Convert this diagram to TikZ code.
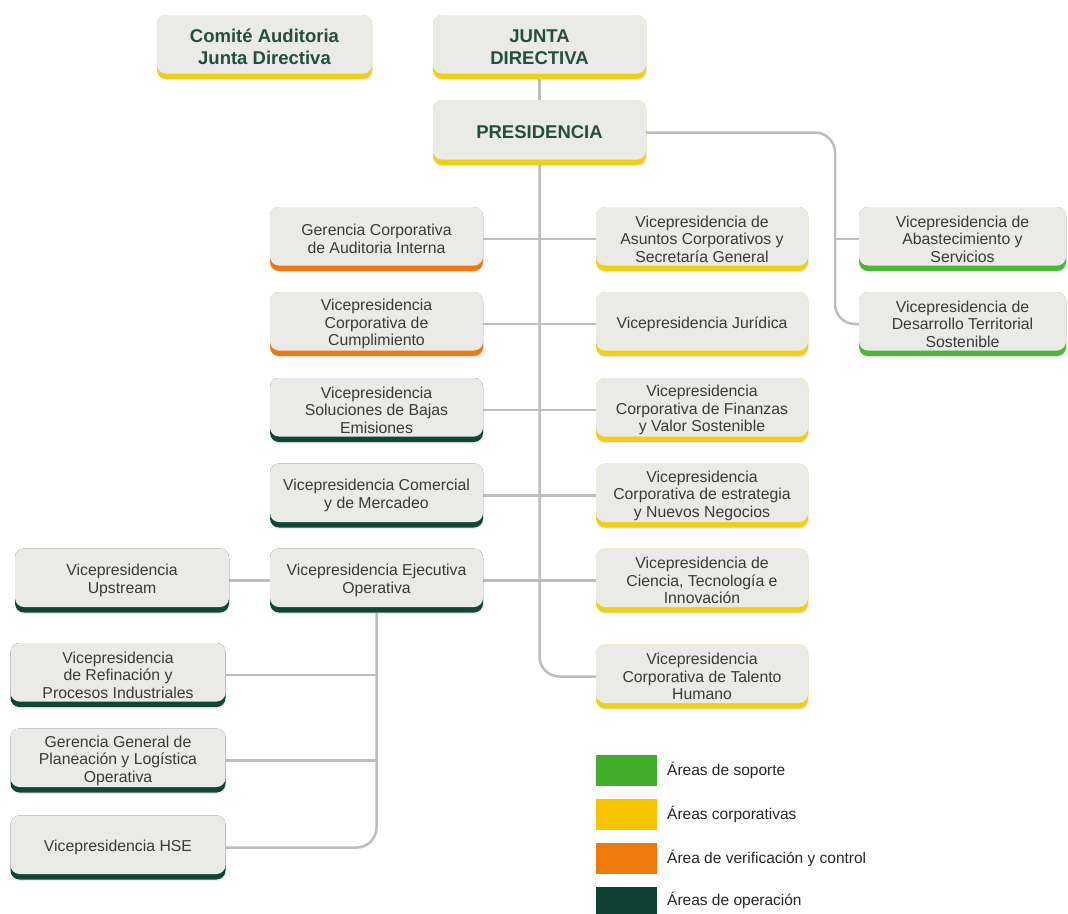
\documentclass[tikz,border=0pt]{standalone}
\usepackage{fontspec}
\setmainfont{Liberation Sans}
\usetikzlibrary{shadows,backgrounds}
\definecolor{boxgray}{HTML}{EAEAE6}
\definecolor{boxtext}{HTML}{3A3A3A}
\definecolor{titlegreen}{HTML}{234F3C}
\definecolor{linegray}{HTML}{BDBDBD}
\definecolor{barYellow}{HTML}{EFCF1A}
\definecolor{barGreen}{HTML}{4CB53A}
\definecolor{barOrange}{HTML}{EB7A14}
\definecolor{barDark}{HTML}{0F4636}
\definecolor{legGreen}{HTML}{43AE2B}
\definecolor{legYellow}{HTML}{FAC500}
\definecolor{legOrange}{HTML}{EE7A0C}
\definecolor{legDark}{HTML}{0E4033}
\tikzset{
  orgbox/.style={rounded corners=9pt, fill=#1, minimum width=213pt, minimum height=64pt,
    inner sep=0pt, align=center, text=boxtext, font=\fontsize{15.8}{17.5}\selectfont,
    drop shadow={opacity=0.15, shadow xshift=0.8pt, shadow yshift=-1.5pt},
    path picture={\fill[boxgray, rounded corners=9pt]
      ([yshift=5.5pt]path picture bounding box.south west) rectangle
      ([yshift=5.5pt]path picture bounding box.north east);}},
  topfont/.style={font=\fontsize{18.5}{21.5}\selectfont\bfseries, text=titlegreen},
  conn/.style={draw=linegray, line width=2.5pt},
  legsq/.style={minimum width=61pt, minimum height=31pt, inner sep=0pt},
  legtext/.style={anchor=west, inner sep=0pt, text=black!85, font=\fontsize{15.5}{17}\selectfont}
}
\begin{document}
\begin{tikzpicture}[x=1pt, y=-1pt]
\useasboundingbox (0,0) rectangle (1068,913);

% top
\node[orgbox=barYellow, topfont, minimum width=215pt] (comite) at (264.5,47) {Comité Auditoria\\Junta Directiva};
\node[orgbox=barYellow, topfont] (junta) at (539.5,47) {JUNTA\\DIRECTIVA};
\node[orgbox=barYellow, topfont, minimum height=65pt] (pres) at (539.5,132.5) {PRESIDENCIA};

% column B
\node[orgbox=barOrange] (gerencia) at (376.5,239) {Gerencia Corporativa\\de Auditoria Interna};
\node[orgbox=barOrange] (cumpl) at (376.5,324) {Vicepresidencia\\Corporativa de\\Cumplimiento};
\node[orgbox=barDark] (soluc) at (376.5,410) {Vicepresidencia\\Soluciones de Bajas\\Emisiones};
\node[orgbox=barDark] (comerc) at (376.5,495.5) {Vicepresidencia Comercial\\y de Mercadeo};
\node[orgbox=barDark] (ejec) at (376.5,580.5) {Vicepresidencia Ejecutiva\\Operativa};

% column C
\node[orgbox=barYellow, minimum width=212pt] (asuntos) at (702,239) {Vicepresidencia de\\Asuntos Corporativos y\\Secretaría General};
\node[orgbox=barYellow, minimum width=212pt] (jurid) at (702,324) {Vicepresidencia Jurídica};
\node[orgbox=barYellow, minimum width=212pt] (finanz) at (702,410) {Vicepresidencia\\Corporativa de Finanzas\\y Valor Sostenible};
\node[orgbox=barYellow, minimum width=212pt] (estrat) at (702,495.5) {Vicepresidencia\\Corporativa de estrategia\\y Nuevos Negocios};
\node[orgbox=barYellow, minimum width=212pt] (ciencia) at (702,580.5) {Vicepresidencia de\\Ciencia, Tecnología e\\Innovación};
\node[orgbox=barYellow, minimum width=212pt] (talento) at (702,676.5) {Vicepresidencia\\Corporativa de Talento\\Humano};

% column D
\node[orgbox=barGreen, minimum width=207pt] (abast) at (962.5,239) {Vicepresidencia de\\Abastecimiento y\\Servicios};
\node[orgbox=barGreen, minimum width=207pt] (desarr) at (962.5,324) {Vicepresidencia de\\Desarrollo Territorial\\Sostenible};

% column A
\node[orgbox=barDark, minimum width=214pt] (upstream) at (122,580.5) {Vicepresidencia\\Upstream};
\node[orgbox=barDark, minimum width=215pt] (refin) at (118,675) {Vicepresidencia\\de Refinación y\\Procesos Industriales};
\node[orgbox=barDark, minimum width=215pt] (planea) at (118,760.5) {Gerencia General de\\Planeación y Logística\\Operativa};
\node[orgbox=barDark, minimum width=215pt] (hse) at (118,847.5) {Vicepresidencia HSE};

% connectors
\coordinate (rj) at (835,132.5);
\begin{scope}[on background layer]
\draw[conn] (junta.south) -- (pres.north);
\draw[conn, rounded corners=20pt] (pres.south) |- (talento.west);
\draw[conn] (gerencia.east) -- (asuntos.west);
\draw[conn] (cumpl.east) -- (jurid.west);
\draw[conn] (soluc.east) -- (finanz.west);
\draw[conn] (comerc.east) -- (estrat.west);
\draw[conn] (ejec.east) -- (ciencia.west);
\draw[conn] (upstream.east) -- (ejec.west);
\draw[conn, rounded corners=20pt] (pres.east) -- (rj) |- (desarr.west);
\draw[conn] (abast.west) -- (abast.west -| rj);
\draw[conn, rounded corners=20pt] (ejec.south) |- (hse.east);
\draw[conn] (refin.east) -- (refin.east -| ejec.south);
\draw[conn] (planea.east) -- (planea.east -| ejec.south);
\end{scope}

% legend
\node[legsq, fill=legGreen] (lg1) at (626.5,770.5) {};
\node[legsq, fill=legYellow] (lg2) at (626.5,814) {};
\node[legsq, fill=legOrange] (lg3) at (626.5,858) {};
\node[legsq, fill=legDark] (lg4) at (626.5,902) {};
\node[legtext] (lt1) at (667,770.5) {Áreas de soporte};
\node[legtext] (lt2) at (667,814) {Áreas corporativas};
\node[legtext] (lt3) at (667,858) {Área de verificación y control};
\node[legtext] (lt4) at (667,900) {Áreas de operación};
\end{tikzpicture}
\end{document}
